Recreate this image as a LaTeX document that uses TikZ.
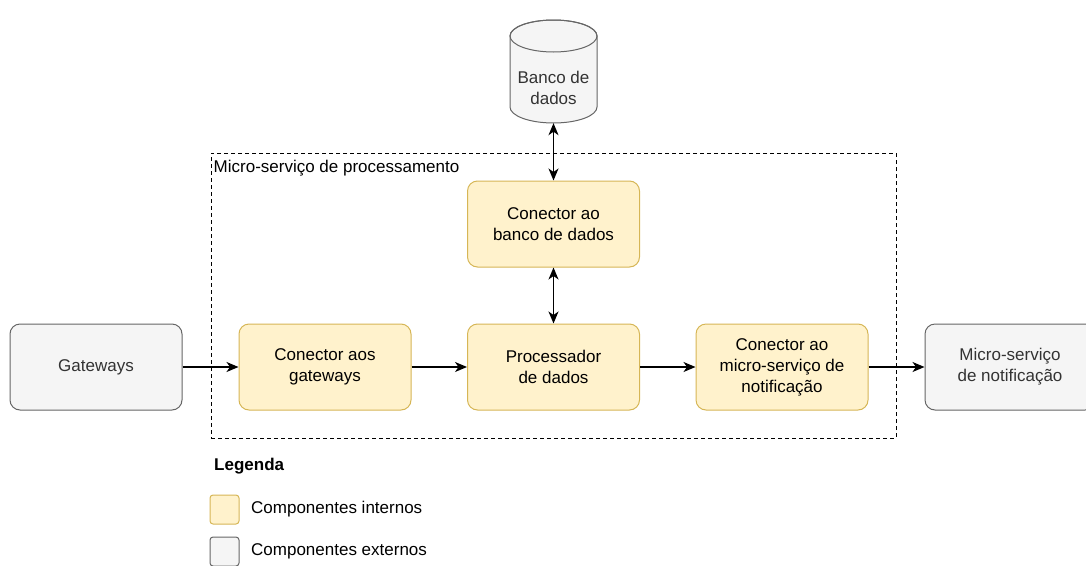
\documentclass[tikz,border=0pt]{standalone}
\usepackage{fontspec}
\setmainfont{Liberation Sans}
\usetikzlibrary{arrows.meta}
\definecolor{intfill}{HTML}{FFF2CC}
\definecolor{intdraw}{HTML}{D6B656}
\definecolor{extfill}{HTML}{F5F5F5}
\definecolor{extdraw}{HTML}{666666}
\definecolor{exttext}{HTML}{333333}
\begin{document}
\begin{tikzpicture}[x=1pt,y=-1pt,
  every node/.style={font=\fontsize{17}{21}\selectfont},
  block/.style={rectangle, rounded corners=10pt, line width=1pt,
    minimum width=172pt, minimum height=86pt, align=center, inner sep=2pt},
  internal/.style={block, fill=intfill, draw=intdraw, text=black},
  external/.style={block, fill=extfill, draw=extdraw, text=exttext},
  tip/.tip={Stealth[length=12pt,width=10pt,inset=3.5pt]},
  link/.style={line width=1.2pt, -tip},
  link2/.style={line width=1.2pt, tip-tip},
  swatch/.style={rectangle, rounded corners=3pt, line width=1pt,
    minimum width=29pt, minimum height=29pt, inner sep=0pt}
]
\useasboundingbox (0,0) rectangle (1086,565);

% processing micro-service boundary
\node[draw, dashed, dash pattern=on 4pt off 3pt, line width=1pt,
  minimum width=685pt, minimum height=285pt, inner sep=0pt]
  (container) at (553.5,295.5) {};
\node[anchor=north west, inner sep=0pt] (containerlabel)
  at ([xshift=3pt,yshift=-7pt]container.north west) {Micro-serviço de processamento};

% database cylinder (y axis points down here)
\path[fill=extfill, draw=extdraw, line width=1pt]
  (510,36) -- (510,107) arc[start angle=180, end angle=0, x radius=43.5, y radius=16]
  -- (597,36) arc[start angle=0, end angle=-180, x radius=43.5, y radius=16] -- cycle;
\draw[extdraw, line width=1pt] (553.5,36) ellipse[x radius=43.5, y radius=16];
\node[draw=none, minimum width=87pt, minimum height=71pt, inner sep=0pt,
  align=center, text=exttext] (db) at (553.5,87.5) {Banco de\\dados};

% components
\node[internal] (dbc)   at (553.5,224) {Conector ao\\banco de dados};
\node[external] (gw)    at (96,367)    {Gateways};
\node[internal] (cgw)   at (325,367)   {Conector aos\\gateways};
\node[internal] (proc)  at (553.5,367) {Processador\\de dados};
\node[internal] (cms)   at (782,367)   {Conector ao\\micro-serviço de\\notificação};
\node[external, minimum width=170pt] (notif) at (1010,367) {Micro-serviço\\de notificação};

% connections
\draw[link2] (db.south) -- (dbc.north);
\draw[link2] (dbc.south) -- (proc.north);
\draw[link] (gw.east) -- (cgw.west);
\draw[link] (cgw.east) -- (proc.west);
\draw[link] (proc.east) -- (cms.west);
\draw[link] (cms.east) -- (notif.west);

% legend
\node[anchor=west, inner sep=0pt, font=\fontsize{17}{21}\selectfont\bfseries] (legtitle)
  at (214,466) {Legenda};
\node[swatch, fill=intfill, draw=intdraw] (legint) at (224.5,509.5) {};
\node[anchor=west, inner sep=0pt] (leginttext) at (251,509.5) {Componentes internos};
\node[swatch, fill=extfill, draw=extdraw] (legext) at (224.5,551.5) {};
\node[anchor=west, inner sep=0pt] (legexttext) at (251,551.5) {Componentes externos};
\end{tikzpicture}
\end{document}
